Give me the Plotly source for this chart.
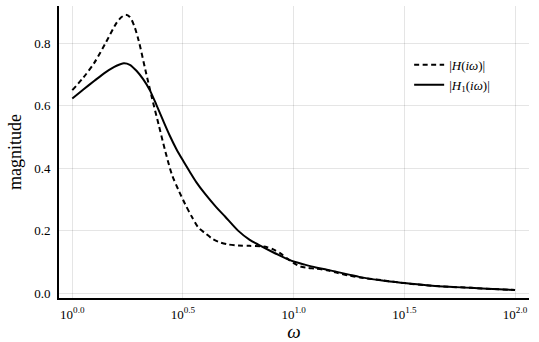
import plotly.graph_objects as go

# frequency points (log10 of omega)
log_w_h = [0.00, 0.05, 0.10, 0.15, 0.20, 0.22, 0.241, 0.26, 0.28, 0.30, 0.33, 0.36, 0.39,
           0.42, 0.45, 0.48, 0.51, 0.54, 0.57, 0.60, 0.63, 0.66, 0.70, 0.75, 0.80, 0.85,
           0.88, 0.91, 0.94, 0.97, 1.00, 1.03, 1.06, 1.10, 1.15, 1.20, 1.25, 1.30,
           1.40, 1.50, 1.60, 1.70, 1.80, 1.90, 2.00]
mag_h = [0.650, 0.690, 0.738, 0.800, 0.865, 0.882, 0.891, 0.884, 0.855, 0.808, 0.715, 0.625,
         0.540, 0.455, 0.380, 0.330, 0.285, 0.245, 0.210, 0.193, 0.176, 0.165, 0.157, 0.153,
         0.152, 0.151, 0.148, 0.140, 0.128, 0.112, 0.097, 0.086, 0.082, 0.079, 0.074, 0.065,
         0.057, 0.051, 0.042, 0.033, 0.026, 0.021, 0.018, 0.014, 0.011]

log_w_h1 = [0.00, 0.05, 0.10, 0.15, 0.20, 0.233, 0.26, 0.29, 0.32, 0.35, 0.38, 0.41,
            0.44, 0.47, 0.50, 0.53, 0.56, 0.60, 0.65, 0.69, 0.75, 0.80, 0.84, 0.90,
            0.95, 1.00, 1.05, 1.10, 1.15, 1.20, 1.25, 1.30, 1.40, 1.50, 1.60, 1.70,
            1.80, 1.90, 2.00]
mag_h1 = [0.623, 0.652, 0.680, 0.707, 0.728, 0.736, 0.731, 0.712, 0.685, 0.650, 0.603, 0.553,
          0.505, 0.462, 0.425, 0.390, 0.356, 0.318, 0.276, 0.246, 0.200, 0.172, 0.156, 0.134,
          0.117, 0.102, 0.092, 0.083, 0.076, 0.068, 0.060, 0.052, 0.041, 0.033, 0.026, 0.021,
          0.018, 0.014, 0.011]

x_ticks = [0.0, 0.5, 1.0, 1.5, 2.0]
y_ticks = [0.0, 0.2, 0.4, 0.6, 0.8]

font_family = "Liberation Serif, DejaVu Serif, serif"

fig = go.Figure()
fig.add_trace(go.Scatter(
    x=[10 ** v for v in log_w_h], y=mag_h, mode="lines",
    line=dict(color="black", width=2, dash="5px,3.5px", shape="spline", smoothing=0.8),
    name="|<i>H</i>(<i>iω</i>)|"))
fig.add_trace(go.Scatter(
    x=[10 ** v for v in log_w_h1], y=mag_h1, mode="lines",
    line=dict(color="black", width=2, shape="spline", smoothing=0.8),
    name="|<i>H</i><sub>1</sub>(<i>iω</i>)|"))

fig.update_layout(
    width=539, height=342,
    margin=dict(l=59, r=10, t=6, b=44),
    plot_bgcolor="white", paper_bgcolor="white",
    font=dict(family=font_family, color="black", size=13),
    legend=dict(x=0.745, y=0.85, xanchor="left", yanchor="top",
                bgcolor="rgba(0,0,0,0)", font=dict(size=13),
                tracegroupgap=0, itemwidth=30),
)
fig.update_xaxes(
    type="log", range=[-0.060, 2.063], automargin=False,
    tickvals=[10 ** t for t in x_ticks],
    ticktext=["10<sup>%.1f</sup>" % t for t in x_ticks],
    tickfont=dict(size=13),
    showgrid=True, gridcolor="rgba(0,0,0,0.1)", gridwidth=1,
    showline=True, linecolor="black", linewidth=2,
    zeroline=False, ticks="", ticklabelstandoff=3,
    title=dict(text="<i>ω</i>", font=dict(size=19), standoff=6),
)
fig.update_yaxes(
    range=[-0.0147, 0.919], automargin=False,
    tickvals=y_ticks, ticktext=["%.1f" % t for t in y_ticks],
    tickfont=dict(size=13),
    showgrid=True, gridcolor="rgba(0,0,0,0.1)", gridwidth=1,
    showline=True, linecolor="black", linewidth=2,
    zeroline=False, ticks="", ticklabelstandoff=4,
    title=dict(text="magnitude", font=dict(size=18), standoff=8),
)

# drop the browser's default page margin so the figure sits at the corner
fig.write_html("out.html", config={"displayModeBar": False},
               post_script="document.body.style.margin='0';")
